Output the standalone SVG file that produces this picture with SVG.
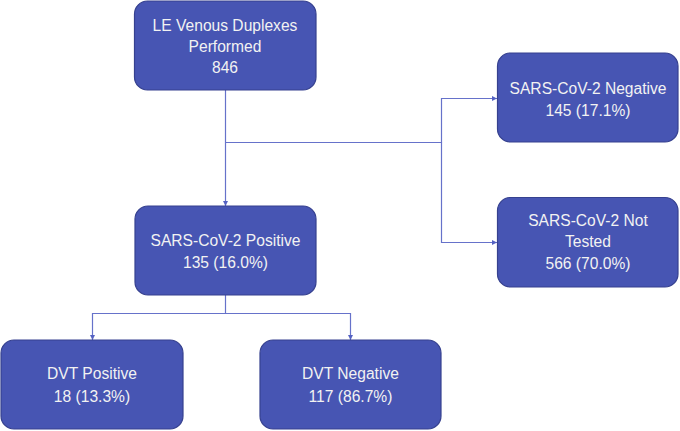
<svg xmlns="http://www.w3.org/2000/svg" width="680" height="431" viewBox="0 0 680 431">
<defs>
<style>
.box{fill:#4755B3;stroke:#36418F;stroke-width:1.2}
.t{font-family:"Liberation Sans",Arial,sans-serif;font-size:15.6px;fill:#F2F2F2;text-anchor:middle}
.c{fill:none;stroke:#6672CA;stroke-width:1.2}
</style>
<marker id="ah" viewBox="0 0 10 10" refX="10" refY="5" markerWidth="5.5" markerHeight="5.5" orient="auto" markerUnits="userSpaceOnUse">
<path d="M0,0 L10,5 L0,10 z" fill="#5562C2"/>
</marker>
</defs>
<rect width="680" height="431" fill="#FFFFFF"/>
<g id="connectors">
<path class="c" d="M225.5,90 V206" marker-end="url(#ah)"/>
<path class="c" d="M225.5,142.5 H441.5 V98.5 H497" marker-end="url(#ah)"/>
<path class="c" d="M441.5,142.5 V242.5 H497" marker-end="url(#ah)"/>
<path class="c" d="M225.5,295 V313.5 H92.5 V340" marker-end="url(#ah)"/>
<path class="c" d="M225.5,313.5 H350.5 V340" marker-end="url(#ah)"/>
</g>
<g id="n-duplex">
<rect class="box" x="134.5" y="1" width="181.5" height="89" rx="13"/>
<text class="t" x="225" y="31">LE Venous Duplexes</text>
<text class="t" x="225" y="52">Performed</text>
<text class="t" x="225" y="73">846</text>
</g>
<g id="n-neg">
<rect class="box" x="497.5" y="53" width="180.5" height="89" rx="13"/>
<text class="t" x="588" y="94">SARS-CoV-2 Negative</text>
<text class="t" x="588" y="116">145 (17.1%)</text>
</g>
<g id="n-nottested">
<rect class="box" x="497.5" y="197.5" width="180.5" height="89.5" rx="13"/>
<text class="t" x="588" y="226">SARS-CoV-2 Not</text>
<text class="t" x="588" y="247">Tested</text>
<text class="t" x="588" y="269">566 (70.0%)</text>
</g>
<g id="n-pos">
<rect class="box" x="135" y="206" width="181" height="89" rx="13"/>
<text class="t" x="225.5" y="246">SARS-CoV-2 Positive</text>
<text class="t" x="225.5" y="268">135 (16.0%)</text>
</g>
<g id="n-dvtpos">
<rect class="box" x="1" y="340" width="182" height="89" rx="13"/>
<text class="t" x="92" y="379">DVT Positive</text>
<text class="t" x="92" y="402">18 (13.3%)</text>
</g>
<g id="n-dvtneg">
<rect class="box" x="260" y="340" width="181" height="89" rx="13"/>
<text class="t" x="350.5" y="379">DVT Negative</text>
<text class="t" x="350.5" y="402">117 (86.7%)</text>
</g>
</svg>
